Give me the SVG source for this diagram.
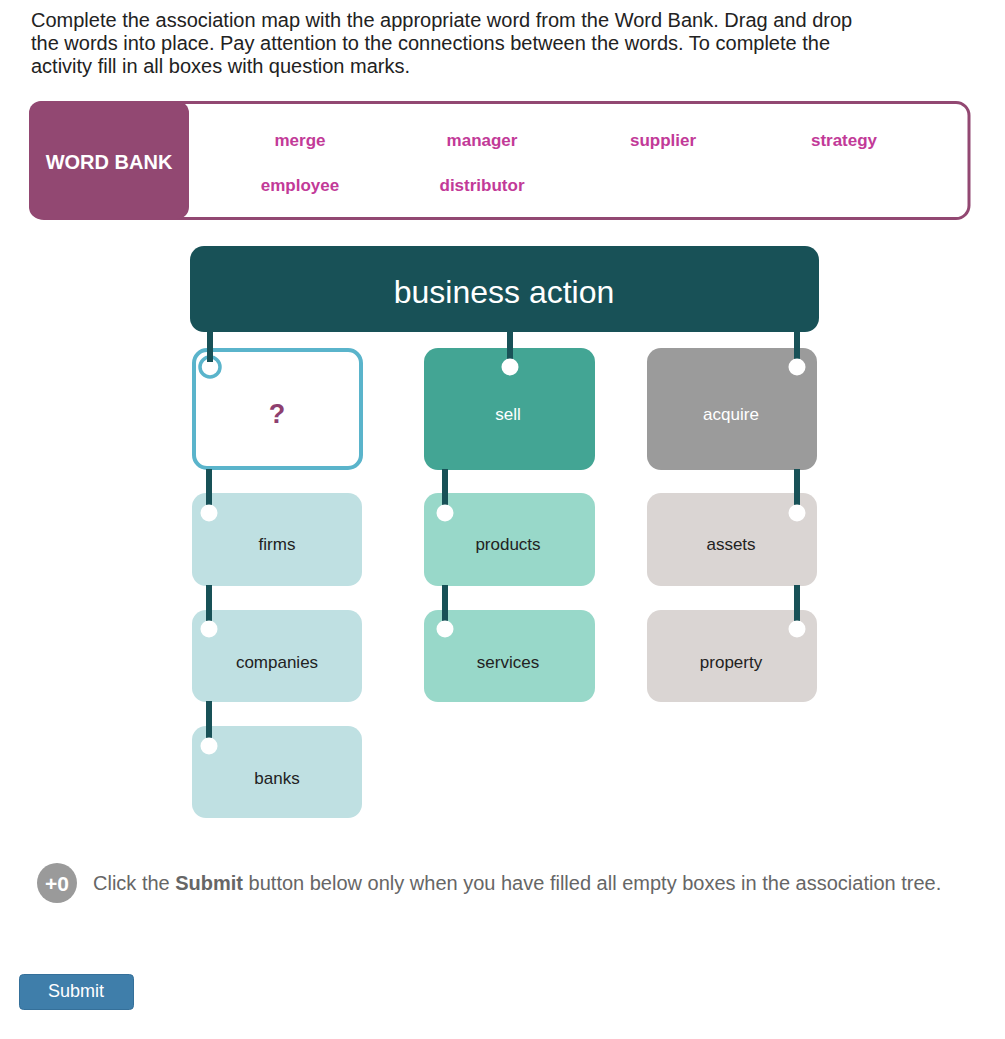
<svg xmlns="http://www.w3.org/2000/svg" width="1005" height="1039" viewBox="0 0 1005 1039">
<style>
text{font-family:"Liberation Sans",Arial,sans-serif}
.instr{font-size:20px;fill:#222}
.wb{font-size:17px;font-weight:bold;fill:#c23a98;text-anchor:middle}
.lbl{font-size:17px;text-anchor:middle;fill:#222}
.wl{font-size:17px;text-anchor:middle;fill:#fff}
.conn{stroke:#185157;stroke-width:6}
.dot{fill:#fff}
</style>
<rect width="1005" height="1039" fill="#fff"/>
<g id="instructions">
<text class="instr" x="31" y="27">Complete the association map with the appropriate word from the Word Bank. Drag and drop</text>
<text class="instr" x="31" y="50">the words into place. Pay attention to the connections between the words. To complete the</text>
<text class="instr" x="31" y="73">activity fill in all boxes with question marks.</text>
</g>
<g id="word-bank">
<rect x="31" y="102.5" width="938" height="116" rx="13" fill="#fff" stroke="#924872" stroke-width="3"/>
<rect x="29" y="101" width="160" height="118" rx="12" fill="#924872"/>
<text x="109" y="169" font-size="20" font-weight="bold" fill="#fff" text-anchor="middle">WORD BANK</text>
<text class="wb" x="300" y="146">merge</text>
<text class="wb" x="482" y="146">manager</text>
<text class="wb" x="663" y="146">supplier</text>
<text class="wb" x="844" y="146">strategy</text>
<text class="wb" x="300" y="191">employee</text>
<text class="wb" x="482" y="191">distributor</text>
</g>
<g id="business-action">
<rect x="190" y="246" width="629" height="86" rx="14" fill="#185157"/>
<text x="504" y="303" font-size="32" fill="#fff" text-anchor="middle">business action</text>
</g>
<g id="node-question">
<rect x="194" y="350" width="167" height="118" rx="13" fill="#fff" stroke="#5ab4cb" stroke-width="4"/>
<text x="277" y="423" font-size="27" font-weight="bold" fill="#8e3f6f" text-anchor="middle">?</text>
</g>
<g id="node-sell">
<rect x="424" y="348" width="171" height="122" rx="14" fill="#43a594"/>
<text class="wl" x="508" y="420">sell</text>
</g>
<g id="node-acquire">
<rect x="647" y="348" width="170" height="122" rx="14" fill="#9b9b9b"/>
<text class="wl" x="731" y="420">acquire</text>
</g>
<g id="node-firms">
<rect x="192" y="493" width="170" height="93" rx="14" fill="#bfe0e2"/>
<text class="lbl" x="277" y="550">firms</text>
</g>
<g id="node-products">
<rect x="424" y="493" width="171" height="93" rx="14" fill="#98d8c9"/>
<text class="lbl" x="508" y="550">products</text>
</g>
<g id="node-assets">
<rect x="647" y="493" width="170" height="93" rx="14" fill="#dad5d3"/>
<text class="lbl" x="731" y="550">assets</text>
</g>
<g id="node-companies">
<rect x="192" y="610" width="170" height="92" rx="14" fill="#bfe0e2"/>
<text class="lbl" x="277" y="668">companies</text>
</g>
<g id="node-services">
<rect x="424" y="610" width="171" height="92" rx="14" fill="#98d8c9"/>
<text class="lbl" x="508" y="668">services</text>
</g>
<g id="node-property">
<rect x="647" y="610" width="170" height="92" rx="14" fill="#dad5d3"/>
<text class="lbl" x="731" y="668">property</text>
</g>
<g id="node-banks">
<rect x="192" y="726" width="170" height="92" rx="14" fill="#bfe0e2"/>
<text class="lbl" x="277" y="784">banks</text>
</g>
<g id="connectors">
<line class="conn" x1="210" y1="331" x2="210" y2="362"/>
<line class="conn" x1="510" y1="331" x2="510" y2="362"/>
<line class="conn" x1="797" y1="331" x2="797" y2="362"/>
<line class="conn" x1="209" y1="469" x2="209" y2="508"/>
<line class="conn" x1="445" y1="469" x2="445" y2="508"/>
<line class="conn" x1="797" y1="469" x2="797" y2="508"/>
<line class="conn" x1="209" y1="585" x2="209" y2="624"/>
<line class="conn" x1="445" y1="585" x2="445" y2="624"/>
<line class="conn" x1="797" y1="585" x2="797" y2="624"/>
<line class="conn" x1="209" y1="701" x2="209" y2="741"/>
<circle cx="210" cy="367" r="10" fill="#fff" stroke="#5ab4cb" stroke-width="3.5"/>
<line class="conn" x1="210" y1="355" x2="210" y2="362"/>
<circle class="dot" cx="510" cy="367" r="8.5"/>
<circle class="dot" cx="797" cy="367" r="8.5"/>
<circle class="dot" cx="209" cy="513" r="8.5"/>
<circle class="dot" cx="445" cy="513" r="8.5"/>
<circle class="dot" cx="797" cy="513" r="8.5"/>
<circle class="dot" cx="209" cy="629" r="8.5"/>
<circle class="dot" cx="445" cy="629" r="8.5"/>
<circle class="dot" cx="797" cy="629" r="8.5"/>
<circle class="dot" cx="209" cy="746" r="8.5"/>
</g>
<g id="footer">
<circle cx="57" cy="883" r="20" fill="#9a9a9a"/>
<text x="57" y="891" font-size="21" font-weight="bold" fill="#fff" text-anchor="middle">+0</text>
<text x="93" y="890" font-size="20" fill="#666">Click the <tspan font-weight="bold">Submit</tspan> button below only when you have filled all empty boxes in the association tree.</text>
</g>
<g id="submit">
<rect x="19.5" y="974.5" width="114" height="35" rx="4" fill="#3f7eaa" stroke="#35709a"/>
<text x="76" y="997" font-size="18" fill="#fff" text-anchor="middle">Submit</text>
</g>
</svg>
